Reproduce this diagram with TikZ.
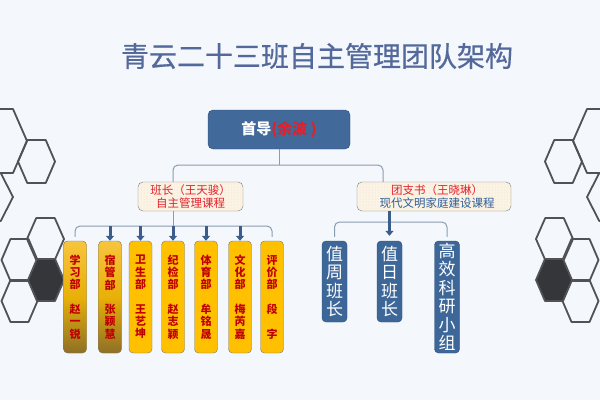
\documentclass[tikz,border=0pt]{standalone}
\usepackage{fontspec}
\newfontfamily\cjk{Noto Sans CJK SC}
\newfontfamily\cjktitle[FakeBold=0.6]{Noto Sans CJK SC}
\usetikzlibrary{arrows.meta,patterns,calc}
\definecolor{bgc}{HTML}{F4F8FC}
\definecolor{titlec}{HTML}{54699B}
\definecolor{topfill}{HTML}{41699A}
\definecolor{topborder}{HTML}{2F4F78}
\definecolor{redtxt}{HTML}{E3202A}
\definecolor{bluetxt}{HTML}{2E5C9A}
\definecolor{creamfill}{HTML}{FBF4E6}
\definecolor{creamdot}{HTML}{EAD9B5}
\definecolor{greyborder}{HTML}{7A7A7A}
\definecolor{deptfill}{HTML}{FFC000}
\definecolor{deptred}{HTML}{C00000}
\definecolor{goldtop}{HTML}{F7C43E}
\definecolor{goldbot}{HTML}{8E7026}
\definecolor{bluefill}{HTML}{3E6799}
\definecolor{blueborder}{HTML}{2C4B74}
\definecolor{connc}{HTML}{8A9CB2}
\definecolor{arrc}{HTML}{3A5D8C}
\definecolor{hexc}{HTML}{505256}
\definecolor{hexdark}{HTML}{34363A}
\newcommand\hexcell[5]{\draw[#5] ({#1+#3},#2) -- ({#1+#3/2},{#2+#4}) -- ({#1-#3/2},{#2+#4}) -- ({#1-#3},#2) -- ({#1-#3/2},{#2-#4}) -- ({#1+#3/2},{#2-#4}) -- cycle;}
\tikzset{
  hexline/.style={draw=hexc, line width=1.8pt, line join=round},
  hexfill/.style={draw=hexc, fill=hexdark, line width=1.8pt, line join=round},
  topbox/.style={draw=topborder, fill=topfill, rounded corners=5pt, minimum width=142pt, minimum height=39pt, inner sep=0pt, text=white, font=\cjk\bfseries\fontsize{15}{17}\selectfont},
  cream/.style={draw=greyborder, fill=creamfill, postaction={pattern=dots, pattern color=creamdot}, rounded corners=5pt, minimum height=29pt, inner sep=0pt, align=center, font=\cjk\fontsize{11.5}{13}\selectfont},
  dept/.style={draw=greyborder, fill=deptfill, rounded corners=4pt, minimum width=23pt, minimum height=112pt, inner sep=0pt, text=deptred, align=center, font=\cjk\bfseries\fontsize{11}{12.3}\selectfont},
  golddept/.style={dept, top color=goldtop, bottom color=goldbot, middle color=deptfill!80!goldbot},
  blu/.style={draw=blueborder, fill=bluefill, rounded corners=4pt, minimum width=25pt, inner sep=0pt, text=white, align=center, font=\cjk\fontsize{17}{18.5}\selectfont},
  conn/.style={draw=connc, line width=1pt},
  arr/.style={draw=arrc, line width=3pt, -{Triangle[width=8pt,length=5pt]}}
}
\begin{document}
\begin{tikzpicture}[x=1pt,y=-1pt]
\fill[bgc] (0,0) rectangle (600,400);
\useasboundingbox (0,0) rectangle (600,400);
\begin{scope}
\clip (0,0) rectangle (600,400);
% left hexagons
\hexcell{-1}{141}{28}{32}{hexline}
\hexcell{36.5}{161.5}{18.5}{21.5}{hexline}
\hexcell{-11.5}{197}{24.5}{24}{hexline}
\hexcell{45.5}{239}{18.5}{21}{hexline}
\hexcell{19.5}{260}{18}{21}{hexline}
\hexcell{19.5}{301}{18}{21}{hexline}
\hexcell{46}{280}{18}{21}{hexfill}
% right hexagons
\hexcell{601}{141}{28}{32}{hexline}
\hexcell{563.5}{161.5}{18.5}{21.5}{hexline}
\hexcell{611.5}{197}{24.5}{24}{hexline}
\hexcell{554.5}{239}{18.5}{21}{hexline}
\hexcell{580.5}{260}{18}{21}{hexline}
\hexcell{580.5}{301}{18}{21}{hexline}
\hexcell{554}{280}{18}{21}{hexfill}
\end{scope}
% title
\node[font=\cjktitle\fontsize{28}{30}\selectfont, text=titlec] (title) at (317,56) {青云二十三班自主管理团队架构};
% top box
\node[topbox] (top) at (279,129.5) {首导\textcolor{redtxt}{(余波 )}};
% second level
\node[cream, minimum width=105pt] (bz) at (190.5,196.5) {\textcolor{redtxt}{班长（王天骏）}\\\textcolor{redtxt}{自主管理课程}};
\node[cream, minimum width=154pt] (tz) at (434,196.5) {\hspace*{6pt}\textcolor{redtxt}{团支书（王晓琳）}\\\hspace*{6pt}\textcolor{bluetxt}{现代文明家庭建设课程}};
% departments
\node[golddept] (d1) at (75,297) {学\\习\\部\\[12.3pt]赵\\一\\锐};
\node[golddept] (d2) at (110,297) {宿\\管\\部\\[12.3pt]张\\颖\\慧};
\node[dept] (d3) at (140.5,297) {卫\\生\\部\\[12.3pt]王\\艺\\坤};
\node[dept] (d4) at (173,297) {纪\\检\\部\\[12.3pt]赵\\志\\颖};
\node[dept] (d5) at (206,297) {体\\育\\部\\[12.3pt]牟\\铭\\晟};
\node[dept] (d6) at (240,297) {文\\化\\部\\[12.3pt]梅\\芮\\嘉};
\node[dept] (d7) at (272,297) {评\\价\\部\\[12.3pt]段\\[12.3pt]字};
% right group
\node[blu, minimum height=81pt] (r1) at (334.5,281.5) {值\\周\\班\\长};
\node[blu, minimum height=81pt] (r2) at (389.5,281.5) {值\\日\\班\\长};
\node[blu, minimum height=112pt] (r3) at (447,297) {高\\效\\科\\研\\小\\组};
% connectors top
\coordinate (tj) at (279,165);
\draw[conn] (top.south) -- (tj);
\draw[conn, rounded corners=5pt] (d4.north |- bz.north) |- (tj) -| ([xshift=-51pt]tz.north);
% connectors left group
\coordinate (lb) at (173,226);
\draw[conn, rounded corners=5pt] ([yshift=4pt]d1.north) |- (lb) -| ([yshift=4pt]d7.north);
\draw[conn] (d4.north |- bz.south) -- (d4.north |- lb);
\foreach \d in {d2,d3,d4,d5,d6}{
  \draw[arr] (\d.north |- lb) -- (\d.north);
}
% connectors right group
\coordinate (rb) at (389.5,222);
\draw[conn, rounded corners=5pt] ([yshift=4pt]r1.north) |- (rb) -| ([yshift=4pt]r3.north);
\draw[arr] (r2.north |- tz.south) -- ([yshift=5pt]r2.north);
\end{tikzpicture}
\end{document}
